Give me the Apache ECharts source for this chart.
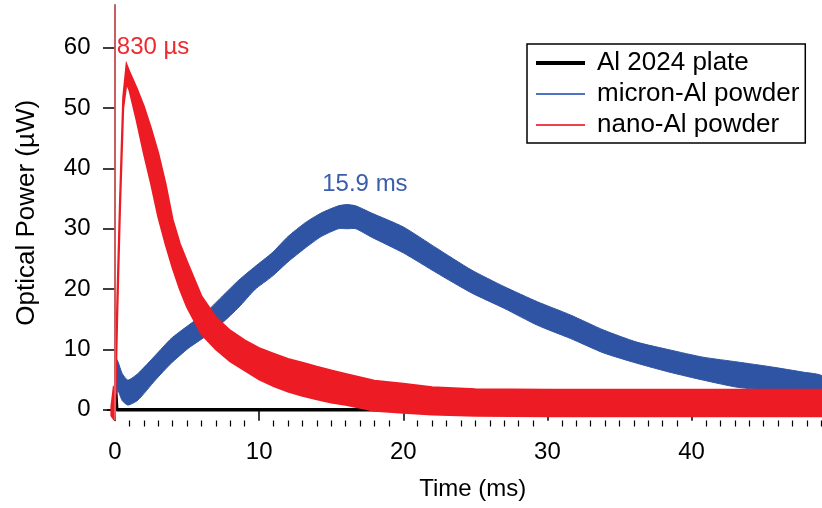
<!DOCTYPE html>
<html>
<head>
<meta charset="utf-8">
<script src="https://cdn.jsdelivr.net/npm/echarts@6/dist/echarts.min.js"></script>
<style>
  html, body { margin: 0; padding: 0; background: #fff; }
  #chart { width: 822px; height: 508px; }
</style>
</head>
<body>
<div id="chart"></div>
<script>
// axis ticks
var yTicks = [0, 10, 20, 30, 40, 50, 60];
var xTicks = [0, 10, 20, 30, 40];
var xMinorTicks = [];
for (var k = 1; k < 50; k++) { if (k % 10) xMinorTicks.push(k); }

// Al 2024 plate (black)
var plateT = [0, 0.03, 0.08, 0.12, 22];
var plateV = [0, 3.9, 3.9, 0, 0];

// micron-Al powder (blue band: lower / upper edge of the noisy trace)
var microT    = [0.05, 0.2, 0.5, 0.9, 1.6, 2.8, 3.9, 5.1, 6.25, 7.4, 8.6, 9.7, 10.9, 12.0, 13.2, 14.3, 15.5, 16.1, 16.7, 17.8, 20.0, 22.3, 24.7, 27.0, 29.3, 31.6, 33.9, 36.2, 38.5, 40.8, 43.2, 45.5, 47.8, 49.05];
var microHigh = [8.5, 8.0, 6.0, 4.9, 6.0, 9.0, 11.8, 14.0, 16.0, 18.7, 21.5, 23.7, 26.0, 28.7, 31.0, 32.6, 33.8, 34.0, 33.8, 32.6, 30.3, 26.8, 23.2, 20.4, 17.9, 15.7, 13.2, 11.2, 9.9, 8.7, 7.9, 7.1, 6.2, 5.6];
var microLow  = [2.5, 3.2, 1.5, 0.75, 1.6, 4.9, 7.7, 10.2, 12.1, 14.3, 17.0, 19.9, 22.1, 24.5, 26.8, 28.7, 30.0, 30.0, 30.0, 28.6, 26.0, 22.7, 19.4, 16.8, 14.0, 11.8, 9.4, 7.7, 6.2, 4.9, 3.7, 3.2, 2.9, 2.9];

// nano-Al powder (red band)
var nanoT    = [-0.25, -0.1, 0, 0.06, 0.16, 0.35, 0.57, 0.8, 1.0, 1.5, 2, 2.5, 3, 3.5, 4, 4.5, 5, 6, 7, 8, 9, 10, 11, 12, 13, 14, 15, 16, 18, 20, 22, 25, 30, 35, 40, 45, 49.05];
var nanoHigh = [0.5, 3.5, 3.0, 7, 18.2, 35, 51.8, 57.2, 56, 53.3, 50.3, 46.6, 42.5, 37.5, 31.5, 27.5, 24.5, 18.8, 15.3, 13.1, 11.5, 10.2, 9.3, 8.4, 7.8, 7.1, 6.5, 5.9, 4.8, 4.3, 3.7, 3.4, 3.3, 3.3, 3.3, 3.3, 3.3];
var nanoLow  = [-1.0, -1.5, -0.5, 5, 16, 33.5, 50, 54.2, 53, 48, 42.5, 37.5, 32, 27.5, 23.5, 20, 17, 12.5, 10, 8, 6.5, 5.0, 3.9, 3.0, 2.3, 1.7, 1.2, 0.8, -0.2, -0.5, -0.8, -1.0, -1.1, -1.1, -1.1, -1.1, -1.1];

var triggerT = -0.05;
var peakNano = { text: '830 µs', t: 2.64, v: 60.1 };
var peakMicro = { text: '15.9 ms', t: 17.34, v: 37.4 };

var FONT = 'Liberation Sans, Arial, Helvetica, sans-serif';
var BLUE = '#2f54a3', RED = '#ed1c24';

function pairs(t, v) {
	return t.map(function (x, i) { return [x, v[i]]; });
}
function triples(t, lo, hi) {
	return t.map(function (x, i) { return [x, lo[i], hi[i]]; });
}
// draws the noisy trace as one filled band between its lower and upper edge
function band(t, lo, hi, color, edge, smooth) {
	return function (params, api) {
		if (params.dataIndex !== 0) return;
		var up = [], down = [];
		for (var i = 0; i < t.length; i++) {
			up.push(api.coord([t[i], hi[i]]));
			down.push(api.coord([t[i], lo[i]]));
		}
		return {
			type: 'polygon',
			shape: { points: up.concat(down.reverse()), smooth: smooth },
			style: { fill: color, stroke: color, lineWidth: edge }
		};
	};
}

var chart = echarts.init(document.getElementById('chart'), null, { renderer: 'canvas' });
var option = {
	animation: false,
	backgroundColor: '#fff',
	textStyle: { fontFamily: FONT },
	grid: { left: 107.5, right: 0, top: 5, bottom: 87.5, containLabel: false },
	legend: {
		left: 527, top: 44,
		orient: 'vertical',
		data: [
			{ name: 'Al 2024 plate', lineStyle: { width: 4, color: '#000' } },
			{ name: 'micron-Al powder' },
			{ name: 'nano-Al powder' }
		],
		borderColor: '#000', borderWidth: 1.5,
		padding: [6, 6, 5, 7],
		itemWidth: 49, itemHeight: 2, itemGap: 5,
		itemStyle: { opacity: 0 },
		textStyle: { fontFamily: FONT, fontSize: 26, lineHeight: 26, color: '#000', padding: [0, 0, 0, 7] },
		selectedMode: false
	},
	xAxis: [
		{
			type: 'value', min: -0.52, max: 49.05,
			name: 'Time (ms)', nameLocation: 'middle', nameGap: 57,
			nameTextStyle: { fontFamily: FONT, fontSize: 24, color: '#000', padding: [0, 0, 0, 16] },
			axisLine: { show: true, lineStyle: { color: '#000', width: 1.5 } },
			axisTick: { show: true, length: 11, customValues: xTicks, lineStyle: { color: '#000', width: 1.5 } },
			axisLabel: { customValues: xTicks, margin: 20, fontSize: 24, color: '#000', fontFamily: FONT },
			splitLine: { show: false }
		},
		{
			type: 'value', min: -0.52, max: 49.05, position: 'bottom',
			axisLine: { show: false },
			axisTick: { show: true, length: 6, customValues: xMinorTicks, lineStyle: { color: '#000', width: 1.2 } },
			axisLabel: { show: false },
			splitLine: { show: false }
		}
	],
	yAxis: {
		type: 'value', min: -1.8, max: 67.1,
		name: 'Optical Power (µW)', nameLocation: 'middle', nameGap: 68,
		nameTextStyle: { fontFamily: FONT, fontSize: 26, color: '#000' },
		axisLine: { show: true, lineStyle: { color: '#000', width: 1.5 } },
		axisTick: { show: true, length: 12, customValues: yTicks, lineStyle: { color: '#000', width: 1.5 } },
		axisLabel: { customValues: yTicks, margin: 17, fontSize: 24, color: '#000', fontFamily: FONT },
		splitLine: { show: false }
	},
	series: [
		{
			name: 'Al 2024 plate', type: 'line', symbol: 'none', z: 2,
			data: pairs(plateT, plateV),
			lineStyle: { color: '#000', width: 3.5 }, itemStyle: { color: '#000' },
			markLine: {
				silent: true, symbol: ['none', 'none'],
				label: { show: false },
				lineStyle: { color: '#f36b6b', width: 1.5, type: 'solid' },
				data: [{ xAxis: triggerT }]
			},
			markPoint: {
				symbol: 'circle', symbolSize: 1, silent: true,
				itemStyle: { color: 'rgba(0,0,0,0)' },
				data: [
					{ coord: [peakNano.t, peakNano.v], label: { show: true, position: 'inside', formatter: peakNano.text, color: '#ee2a30', fontSize: 24, fontFamily: FONT } },
					{ coord: [peakMicro.t, peakMicro.v], label: { show: true, position: 'inside', formatter: peakMicro.text, color: '#3a5eab', fontSize: 24, fontFamily: FONT } }
				]
			}
		},
		{
			name: 'microBand', type: 'custom', z: 3, silent: true, clip: true,
			renderItem: band(microT, microLow, microHigh, BLUE, 1, 0.2),
			encode: { x: 0, y: [1, 2] },
			data: triples(microT, microLow, microHigh)
		},
		{
			name: 'nanoBand', type: 'custom', z: 4, silent: true, clip: true,
			renderItem: band(nanoT, nanoLow, nanoHigh, RED, 2, 0),
			encode: { x: 0, y: [1, 2] },
			data: triples(nanoT, nanoLow, nanoHigh)
		},
		// legend-only entries
		{ name: 'micron-Al powder', type: 'line', symbol: 'none', data: [], lineStyle: { color: '#4f72c2', width: 1.5 }, itemStyle: { color: '#4f72c2' } },
		{ name: 'nano-Al powder', type: 'line', symbol: 'none', data: [], lineStyle: { color: '#f0404a', width: 1.5 }, itemStyle: { color: '#f0404a' } }
	]
};
chart.setOption(option);
</script>
</body>
</html>
